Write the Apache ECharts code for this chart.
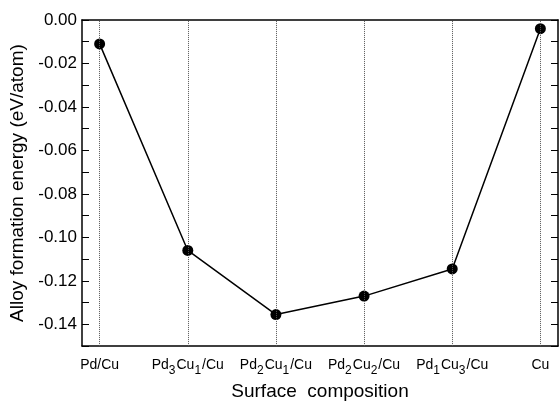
<!DOCTYPE html>
<html>
<head>
<meta charset="utf-8">
<script src="https://cdn.jsdelivr.net/npm/echarts@6/dist/echarts.min.js"></script>
<style>
  html, body { margin: 0; padding: 0; background: #fff; }
  #chart { width: 559px; height: 406px; }
</style>
</head>
<body>
<div id="chart"></div>
<script>
// surface compositions (subscripts as rich text)
var categories = [
    '{n|Pd/Cu}',
    '{n|Pd}{s|3}{n|Cu}{s|1}{n|/Cu}',
    '{n|Pd}{s|2}{n|Cu}{s|1}{n|/Cu}',
    '{n|Pd}{s|2}{n|Cu}{s|2}{n|/Cu}',
    '{n|Pd}{s|1}{n|Cu}{s|3}{n|/Cu}',
    '{n|Cu}'
];
var positions = [0, 1, 2, 3, 4, 5];
// alloy formation energy, eV/atom
var energy = [-0.011, -0.106, -0.1355, -0.127, -0.1145, -0.004];

var chart = echarts.init(document.getElementById('chart'));
var font = 'Liberation Sans, Arial, Helvetica, sans-serif';

// ticks every 0.01, labels only on the even hundredths
var yBase = {
    type: 'value',
    min: -0.15,
    max: 0,
    interval: 0.01,
    axisLine: { show: true, onZero: false, lineStyle: { color: '#000', width: 1.5 } },
    axisTick: { show: true, inside: true, length: 7, lineStyle: { color: '#000', width: 1 } },
    splitLine: { show: false }
};

var option = {
    animation: false,
    grid: { left: 82, top: 20, right: 1, bottom: 52 },
    xAxis: [{
        type: 'value',
        min: -0.2,
        max: 5.2,
        name: 'Surface  composition',
        nameLocation: 'middle',
        nameGap: 33,
        nameTextStyle: { fontFamily: font, fontSize: 19, color: '#000' },
        axisLine: { show: true, onZero: false, lineStyle: { color: '#000', width: 1.5 } },
        axisTick: { show: false },
        splitLine: { show: false },
        axisLabel: {
            customValues: positions,
            margin: 7,
            fontFamily: font,
            formatter: function (v) {
                return categories[Math.round(v)];
            },
            rich: {
                n: { fontFamily: font, fontSize: 14, color: '#000', lineHeight: 24, verticalAlign: 'middle' },
                s: { fontFamily: font, fontSize: 12, color: '#000', lineHeight: 24, verticalAlign: 'bottom', padding: [0, 1, 0, 0] }
            }
        }
    }, {
        type: 'value',
        position: 'top',
        min: -0.2,
        max: 5.2,
        axisLine: { show: true, onZero: false, lineStyle: { color: '#000', width: 1.5 } },
        axisTick: { show: false },
        axisLabel: { show: false },
        splitLine: { show: false }
    }],
    yAxis: [
        Object.assign({}, yBase, {
            name: 'Alloy formation energy (eV/atom)',
            nameLocation: 'middle',
            nameGap: 53,
            nameTextStyle: { fontFamily: font, fontSize: 19, color: '#000' },
            axisLabel: {
                margin: 5,
                fontFamily: font,
                fontSize: 17,
                color: '#000',
                formatter: function (v) {
                    var h = Math.round(v * 100);
                    return h % 2 === 0 ? (h / 100).toFixed(2) : '';
                }
            }
        }),
        Object.assign({}, yBase, {
            position: 'right',
            axisLabel: { show: false }
        })
    ],
    series: [{
        type: 'line',
        data: positions.map(function (p, i) { return [p, energy[i]]; }),
        symbol: 'circle',
        symbolSize: 11,
        lineStyle: { color: '#000', width: 1.5 },
        itemStyle: { color: '#000' },
        markLine: {
            silent: true,
            symbol: 'none',
            label: { show: false },
            lineStyle: { color: '#555', type: 'dotted', width: 1 },
            data: positions.map(function (p) { return { xAxis: p }; })
        }
    }]
};

chart.setOption(option);
</script>
</body>
</html>
